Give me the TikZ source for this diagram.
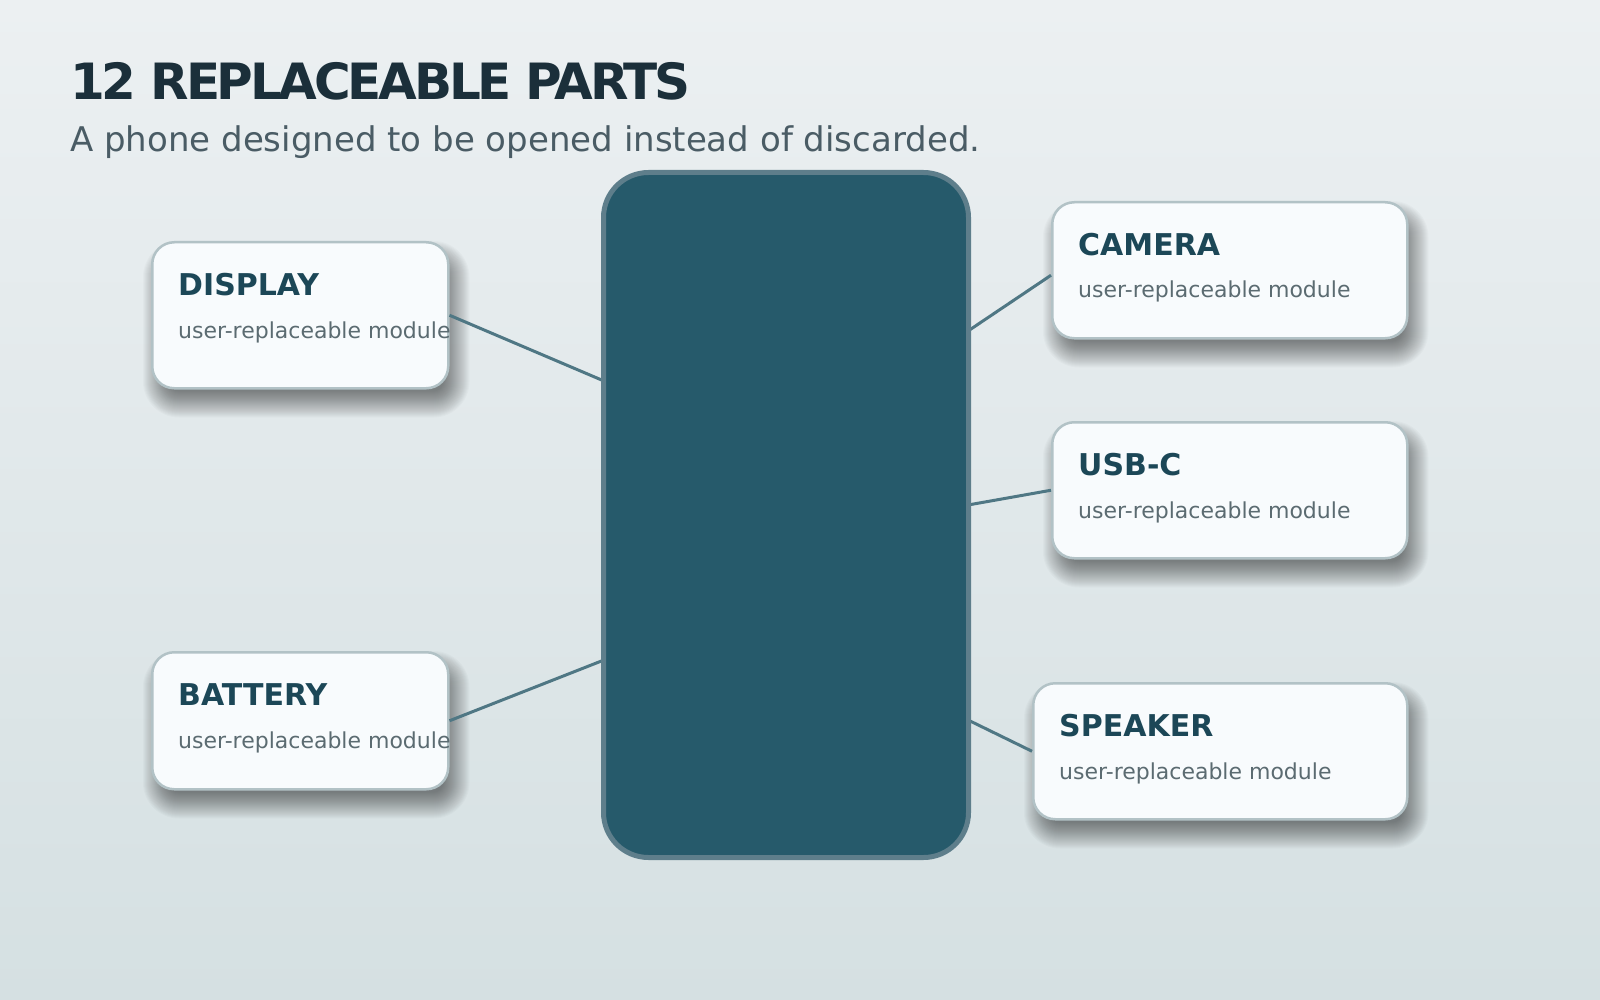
\documentclass[tikz,border=0pt]{standalone}
\usepackage{fontspec}
\setmainfont{DejaVu Sans}
\newfontfamily\headfont{DejaVu Sans}[LetterSpace=-6.5]

\definecolor{bgtop}{HTML}{ECF0F2}
\definecolor{bgbot}{HTML}{D5E0E2}
\definecolor{inkdark}{HTML}{1B2F3A}
\definecolor{inksub}{HTML}{4A5C65}
\definecolor{phonefill}{HTML}{265A6B}
\definecolor{phoneedge}{HTML}{5E7E8B}
\definecolor{boxfill}{HTML}{F8FBFD}
\definecolor{boxedge}{HTML}{B2C2C6}
\definecolor{boxtitle}{HTML}{1C4757}
\definecolor{boxsub}{HTML}{5B6B71}
\definecolor{wire}{HTML}{4F7784}

\pgfdeclarelayer{back}
\pgfdeclarelayer{shade}
\pgfsetlayers{back,shade,main}

\tikzset{
  partbox/.style={draw=boxedge, line width=2.5pt, fill=boxfill, rounded corners=22pt,
    anchor=north west, inner sep=0},
  parttitle/.style={anchor=base west, inner sep=0, text=boxtitle, font=\bfseries\fontsize{30}{36}\selectfont},
  partsub/.style={anchor=base west, inner sep=0, text=boxsub, font=\fontsize{22}{26}\selectfont},
  wire/.style={draw=wire, line width=3pt}
}

% soft shadow under a box
\newcommand{\dropshade}[1]{%
  \foreach \e in {-12,-11,...,14}{%
    \pgfmathsetmacro{\rc}{max(22+\e,2)}%
    \fill[black, opacity=0.018, rounded corners=\rc pt] ([shift={(6-\e,14-\e)}]#1.north west) rectangle ([shift={(6+\e,14+\e)}]#1.south east);
  }}

\begin{document}
\begin{tikzpicture}[x=1pt, y=-1pt]
    \begin{pgfonlayer}{back}
      \shade[top color=bgtop, bottom color=bgbot] (0,0) rectangle (1600,1000);
    \end{pgfonlayer}
    \useasboundingbox (0,0) rectangle (1600,1000);

    % Heading
    \node[anchor=base west, inner sep=0, text=inkdark, font=\headfont\bfseries\fontsize{50}{60}\selectfont] (title) at (70,100) {12 REPLACEABLE PARTS};
    \node[anchor=base west, inner sep=0, text=inksub, font=\fontsize{34}{40}\selectfont] (subtitle) at (70,152) {A phone designed to be opened instead of discarded.};

    % Module boxes
    \node[partbox, minimum width=296pt, minimum height=146pt] (disp) at (151,241) {};
    \node[partbox, minimum width=296pt, minimum height=137pt] (batt) at (151,651) {};
    \node[partbox, minimum width=355pt, minimum height=136pt] (cam) at (1051,201) {};
    \node[partbox, minimum width=355pt, minimum height=136pt] (usb) at (1051,421) {};
    \node[partbox, minimum width=374pt, minimum height=136pt] (spk) at (1032,682) {};

    % Shadows
    \begin{pgfonlayer}{shade}
      \dropshade{disp}
      \dropshade{batt}
      \dropshade{cam}
      \dropshade{usb}
      \dropshade{spk}
    \end{pgfonlayer}

    % Box labels
    \node[parttitle] (dispT) at ([shift={(27,54)}]disp.north west) {DISPLAY};
    \node[partsub] (dispS) at ([shift={(27,97)}]disp.north west) {user-replaceable module};
    \node[parttitle] (battT) at ([shift={(27,54)}]batt.north west) {BATTERY};
    \node[partsub] (battS) at ([shift={(27,97)}]batt.north west) {user-replaceable module};
    \node[parttitle] (camT) at ([shift={(27,54)}]cam.north west) {CAMERA};
    \node[partsub] (camS) at ([shift={(27,97)}]cam.north west) {user-replaceable module};
    \node[parttitle] (usbT) at ([shift={(27,54)}]usb.north west) {USB-C};
    \node[partsub] (usbS) at ([shift={(27,97)}]usb.north west) {user-replaceable module};
    \node[parttitle] (spkT) at ([shift={(27,54)}]spk.north west) {SPEAKER};
    \node[partsub] (spkS) at ([shift={(27,97)}]spk.north west) {user-replaceable module};

    % Ends of the connectors on the phone
    \coordinate (pdisp) at (604,381);
    \coordinate (pbatt) at (604,660);
    \coordinate (pcam) at (968,331);
    \coordinate (pusb) at (968,505);
    \coordinate (pspk) at (968,720);

    % Connectors
    \draw[wire] (disp.east) -- (pdisp);
    \draw[wire] (batt.east) -- (pbatt);
    \draw[wire] ([yshift=-5pt]cam.west) -- (pcam);
    \draw[wire] (usb.west) -- (pusb);
    \draw[wire] (spk.west) -- (pspk);

    % Phone body
    \node[draw=phoneedge, fill=phonefill, line width=5pt, rounded corners=45pt, anchor=north west, inner sep=0,
      minimum width=365pt, minimum height=685pt] (phone) at (601,170) {};
\end{tikzpicture}
\end{document}
